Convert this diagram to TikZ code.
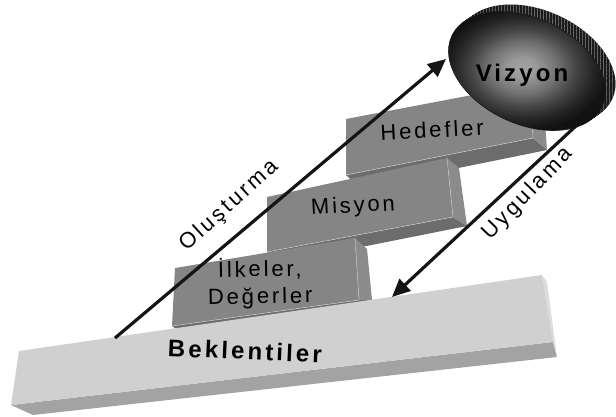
\documentclass[tikz,border=0pt]{standalone}
\usepackage{fontspec}
\setmainfont{Liberation Sans}
\newfontfamily\labelfont[LetterSpace=13]{Liberation Sans}
\newfontfamily\heavyfont[LetterSpace=13]{Liberation Sans Bold}
\usetikzlibrary{patterns,arrows.meta}

\definecolor{slabfront}{HTML}{D0D0D0}
\definecolor{slabside}{HTML}{DCDCDC}
\definecolor{slabbottom}{HTML}{A3A3A3}
\definecolor{blockfront}{HTML}{858585}
\definecolor{blockside}{HTML}{8B8B8B}
\definecolor{blockbottom}{HTML}{6C6C6C}
\definecolor{rimdark}{HTML}{1A1A1A}

% the central 50bp square of a shading covers the filled path
\pgfdeclareradialshading{vizglow}{\pgfpoint{-1.5bp}{0bp}}{%
  color(0bp)=(black!36); color(4bp)=(black!40); color(10bp)=(black!56);
  color(15bp)=(black!73); color(20bp)=(black!86); color(24bp)=(black!93);
  color(50bp)=(black!93)}

\tikzset{
  front/.style={fill=blockfront},
  side/.style={fill=blockside},
  under/.style={fill=blockbottom},
  crease/.style={draw=white!78!black, line width=0.5pt},
  blocklabel/.style={font=\labelfont\fontsize{22pt}{27pt}\selectfont, text=black, inner sep=0pt, align=center},
  boldlabel/.style={font=\heavyfont\fontsize{24pt}{26pt}\selectfont, text=black, inner sep=0pt},
  flowarrow/.style={line width=3.2pt, draw=black!92, -{Triangle[length=18pt,width=16pt]}},
  disc/.style={x radius=83pt, y radius=53pt, rotate=-25},
}

\begin{document}
\begin{tikzpicture}[x=1pt,y=-1pt]
  \useasboundingbox (0,0) rectangle (616,416);

  % Hedefler block
  \fill[under] (346,175) -- (533,138) -- (547,150) -- (360,188) -- cycle;
  \fill[side] (530,84) -- (543,95) -- (547,150) -- (533,138) -- cycle;
  \fill[front] (346,119) -- (530,84) -- (533,138) -- (346,175) -- cycle;
  \draw[crease] (346,175) -- (533,138) -- (530,84);
  \node[blocklabel, rotate=3] (hedef) at (432,130) {Hedefler};

  % Misyon block
  \fill[under] (267,252) -- (453,217) -- (467,226) -- (281,263) -- cycle;
  \fill[side] (447,158) -- (459,168) -- (467,226) -- (453,217) -- cycle;
  \fill[front] (267,197) -- (447,158) -- (453,217) -- (267,252) -- cycle;
  \draw[crease] (267,252) -- (453,217) -- (447,158);
  \node[blocklabel, rotate=3] (misyon) at (353,207) {Misyon};

  % İlkeler, Değerler block
  \fill[under] (172,326) -- (359,300) -- (372,300) -- (178,330) -- cycle;
  \fill[side] (355,238) -- (367,249) -- (372,300) -- (359,300) -- cycle;
  \fill[front] (175,268) -- (355,238) -- (359,300) -- (172,326) -- cycle;
  \draw[crease] (172,326) -- (359,300) -- (355,238);
  \node[blocklabel, rotate=1] (ilke) at (260,283) {İlkeler,\\Değerler};

  % Beklentiler slab
  \fill[slabbottom] (11,405) -- (553,342) -- (557,357) -- (33,415) -- cycle;
  \fill[slabside] (542,275) -- (547,282) -- (557,357) -- (553,342) -- cycle;
  \fill[slabfront] (19,351) -- (542,275) -- (553,342) -- (11,405) -- cycle;
  \node[boldlabel, rotate=-2.5] (bek) at (245,351) {Beklentiler};

  % Uygulama connector, starting behind the disc
  \coordinate (uygStart) at (578,124);
  \coordinate (uygEnd) at (392,297);
  \draw[flowarrow] (uygStart) -- (uygEnd);
  \node[blocklabel, rotate=46] (uyg) at (528,194) {Uygulama};

  % Vizyon disc: rim, then shaded face
  \foreach \i in {10,9,...,1}{
    \fill[rimdark] (527+\i,71-0.7*\i) circle[disc];
    \fill[pattern=vertical lines, pattern color=black!55] (527+\i,71-0.7*\i) circle[disc];
  }
  \shade[shading=vizglow] (527,71) circle[disc];
  \draw[black!90, line width=0.6pt] (527,71) circle[disc];
  \node[boldlabel] (viz) at (522,75) {Vizyon};

  % Oluşturma connector
  \coordinate (olStart) at (115,338);
  \coordinate (olEnd) at (446,59);
  \draw[flowarrow] (olStart) -- (olEnd);
  \node[blocklabel, rotate=42] (olus) at (229,206) {Oluşturma};
\end{tikzpicture}
\end{document}
